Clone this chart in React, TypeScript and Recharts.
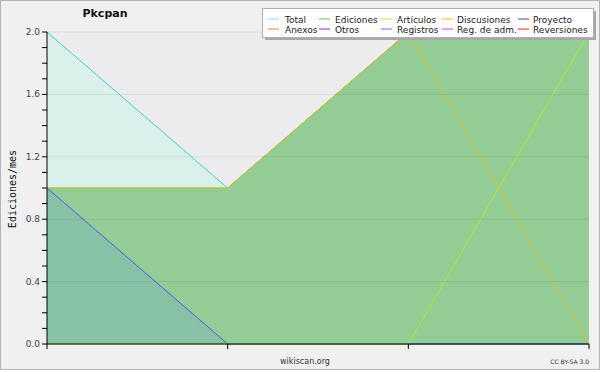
import React from 'react';
import { AreaChart, Area, Line, XAxis, YAxis, CartesianGrid, ReferenceLine } from 'recharts';

const months = ['m1', 'm2', 'm3', 'm4'];
const total = [2, 1, 2, 2];
const ediciones = [1, 1, 2, 2];
const articulos = [0, 0, 0, 2];
const discusiones = [1, 1, 2, 0];
const registros = [1, 0, 0, 0];
const yTicks = [0, 0.1, 0.2, 0.3, 0.4, 0.5, 0.6, 0.7, 0.8, 0.9, 1.0, 1.1, 1.2, 1.3, 1.4, 1.5, 1.6, 1.7, 1.8, 1.9, 2.0];
const gridValues = [0.4, 0.8, 1.2, 1.6, 2.0];

const legendRow1 = [
  { name: 'Total', color: '#80e0e0', lx: 268, tx: 285 },
  { name: 'Ediciones', color: '#70c070', lx: 319, tx: 335 },
  { name: 'Artículos', color: '#b0f030', lx: 381, tx: 397 },
  { name: 'Discusiones', color: '#f0c020', lx: 442, tx: 457 },
  { name: 'Proyecto', color: '#555555', lx: 518, tx: 533 },
];
const legendRow2 = [
  { name: 'Anexos', color: '#f08040', lx: 268, tx: 285 },
  { name: 'Otros', color: '#8030e0', lx: 319, tx: 335 },
  { name: 'Registros', color: '#6070f0', lx: 381, tx: 397 },
  { name: 'Reg. de adm.', color: '#d040f0', lx: 442, tx: 457 },
  { name: 'Reversiones', color: '#f02020', lx: 518, tx: 533 },
];

const data = months.map((m, i) => ({
  m,
  total: total[i],
  ediciones: ediciones[i],
  articulos: articulos[i],
  discusiones: discusiones[i],
  registros: registros[i],
}));

const FONT = '"DejaVu Sans", sans-serif';

const YTick = (props: any) => {
  const { x, y, payload, index } = props;
  if (index % 4 !== 0) return <g />;
  return (
    <text x={x} y={y} dy={3} textAnchor="end" fontSize={9} fill="#444" fontFamily={FONT}>
      {Number(payload.value).toFixed(1)}
    </text>
  );
};

export default function App() {
  return (
    <div style={{ position: 'absolute', left: 0, top: 0, width: 600, height: 370, background: '#f0f0f0' }}>
      <AreaChart
        width={600}
        height={370}
        data={data}
        margin={{ top: 32, right: 11, bottom: 0, left: 0 }}
      >
        <CartesianGrid fill="#ececef" horizontal={false} vertical={false} stroke="none" />
        <XAxis
          dataKey="m"
          scale="point"
          padding={{ left: 0, right: 0 }}
          height={26}
          tick={() => <g />}
          tickSize={5}
          axisLine={{ stroke: '#000' }}
          tickLine={{ stroke: '#000' }}
        />
        <YAxis
          width={47}
          domain={[0, 2]}
          ticks={yTicks}
          interval={0}
          tickSize={5}
          tickMargin={2}
          tick={<YTick />}
          axisLine={{ stroke: '#000' }}
          tickLine={{ stroke: '#000' }}
        />
        <Area type="linear" dataKey="total" stroke="#40d0d0" strokeWidth={1} fill="#daf0ea" fillOpacity={1} isAnimationActive={false} dot={false} activeDot={false} />
        <Area type="linear" dataKey="ediciones" stroke="#70c070" strokeWidth={1} fill="#94cc96" fillOpacity={1} isAnimationActive={false} dot={false} activeDot={false} />
        <Area type="linear" dataKey="registros" stroke="#4060f0" strokeWidth={1} fill="#88c2a6" fillOpacity={1} isAnimationActive={false} dot={false} activeDot={false} />
        <Area type="linear" dataKey="articulos" stroke="#a8f020" strokeWidth={1} fill="none" fillOpacity={0} isAnimationActive={false} dot={false} activeDot={false} />
        <Area type="linear" dataKey="discusiones" stroke="#e0c020" strokeWidth={1} fill="none" fillOpacity={0} isAnimationActive={false} dot={false} activeDot={false} />
        {gridValues.map((v) => (
          <ReferenceLine key={v} y={v} stroke="rgba(0,0,0,0.07)" strokeWidth={1} />
        ))}
      </AreaChart>
      <svg
        width={600}
        height={370}
        style={{ position: 'absolute', left: 0, top: 0, pointerEvents: 'none' }}
      >
        <rect x={0.5} y={0.5} width={599} height={369} fill="none" stroke="#b4b4b4" />
        <text x={105} y={17} textAnchor="middle" fontSize={11} fontWeight="bold" fill="#111" fontFamily={FONT}>
          Pkcpan
        </text>
        <text
          x={16}
          y={189}
          transform="rotate(-90 16 189)"
          textAnchor="middle"
          fontSize={10}
          fill="#111"
          fontFamily='"DejaVu Sans Mono", monospace'
        >
          Ediciones/mes
        </text>
        <text x={305} y={364} textAnchor="middle" fontSize={8} fill="#333" fontFamily={FONT}>
          wikiscan.org
        </text>
        <text x={589} y={364} textAnchor="end" fontSize={6} fill="#333" fontFamily={FONT}>
          CC BY-SA 3.0
        </text>
        <rect x={265} y={11} width={331} height={29} fill="#a8a8a8" />
        <rect x={262.5} y={8.5} width={331} height={29} fill="#ffffff" stroke="#b0b0b0" />
        {[legendRow1, legendRow2].map((row, ri) =>
          row.map((it) => (
            <g key={it.name}>
              <line x1={it.lx} x2={it.lx + 11} y1={19 + ri * 10} y2={19 + ri * 10} stroke={it.color} strokeWidth={1} />
              <text x={it.tx} y={22.5 + ri * 10} fontSize={9} fill="#222" fontFamily={FONT}>
                {it.name}
              </text>
            </g>
          ))
        )}
      </svg>
    </div>
  );
}
